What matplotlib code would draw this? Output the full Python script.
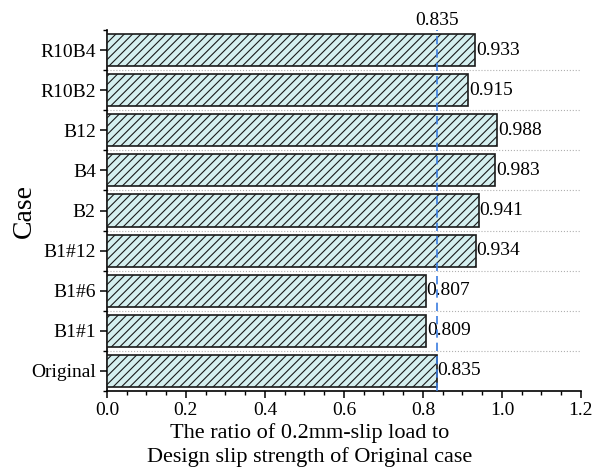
import matplotlib
matplotlib.use("Agg")
import matplotlib.pyplot as plt
from matplotlib.ticker import MultipleLocator, FixedLocator

cases = ["Original", "B1#1", "B1#6", "B1#12", "B2", "B4", "B12", "R10B2", "R10B4"]
ratios = [0.835, 0.809, 0.807, 0.934, 0.941, 0.983, 0.988, 0.915, 0.933]
ref_value = 0.835
xticks = [0.0, 0.2, 0.4, 0.6, 0.8, 1.0, 1.2]

plt.rcParams['font.family'] = ['Liberation Serif', 'DejaVu Serif']
plt.rcParams['hatch.linewidth'] = 0.8

fig = plt.figure(figsize=(5.94, 4.72), dpi=100)
ax = fig.add_axes([0.180, 0.1716, 0.798, 0.7648])

y = list(range(len(cases)))
ax.barh(y, ratios, height=0.8, color='#d5efef', edgecolor='#1a1a1a',
        linewidth=1.2, hatch='////', zorder=3)

for yi, v in zip(y, ratios):
    ax.text(v + 0.002, yi, f"{v:.3f}", va='center', ha='left', fontsize=14, zorder=4)

ax.axvline(ref_value, color='#3b7de0', linestyle=(0, (5, 3)), linewidth=1.2, zorder=4)
ax.text(ref_value, 8.52, f"{ref_value:.3f}", ha='center', va='bottom', fontsize=14)

for b in [i + 0.5 for i in range(len(cases) - 1)]:
    ax.axhline(b, color='#b0b0b0', linestyle=':', linewidth=0.8, zorder=1)

ax.set_xlim(0, 1.2)
ax.set_ylim(-0.5, 8.5)
ax.set_xticks(xticks)
ax.set_xticklabels([f"{t:.1f}" for t in xticks])
ax.xaxis.set_minor_locator(MultipleLocator(0.05))
ax.set_yticks(y)
ax.set_yticklabels(cases)
ax.yaxis.set_minor_locator(FixedLocator([i - 0.5 for i in range(len(cases) + 1)]))

for s in ['top', 'right']:
    ax.spines[s].set_visible(False)
for s in ['left', 'bottom']:
    ax.spines[s].set_linewidth(1.2)

ax.tick_params(axis='both', which='major', direction='out', length=5, width=1.1, labelsize=14, pad=3)
ax.tick_params(axis='both', which='minor', direction='out', length=3, width=1.0)

ax.set_xlabel("The ratio of 0.2mm-slip load to\nDesign slip strength of Original case",
              fontsize=16, linespacing=1.3)
ax.xaxis.set_label_coords(0.428, -0.088)
ax.set_ylabel("Case", fontsize=20)
ax.yaxis.set_label_coords(-0.148, 0.5)

fig.savefig("out.png", dpi=100)
